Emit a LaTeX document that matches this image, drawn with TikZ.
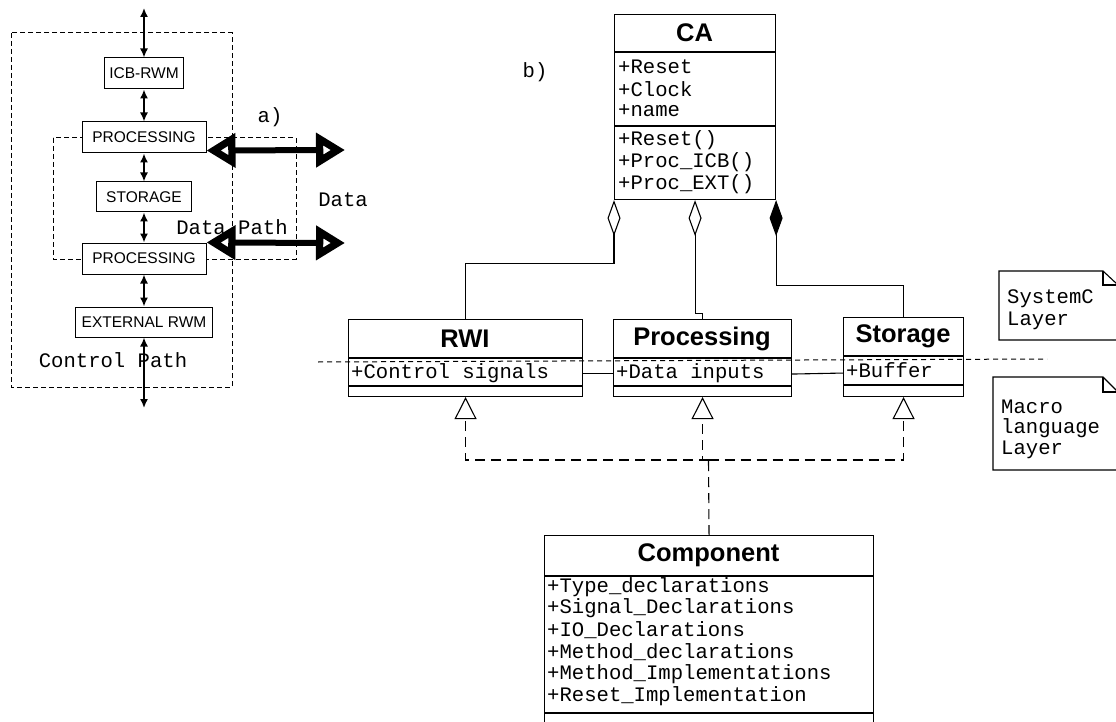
\documentclass[tikz,border=0pt]{standalone}
\usepackage{fontspec}
\setmainfont{Liberation Serif}
\setsansfont{Liberation Sans}
\setmonofont{Liberation Mono}
\usetikzlibrary{positioning,arrows.meta}

\tikzset{
  blk/.style={draw, fill=white, line width=1pt, inner sep=0pt, font=\sffamily\fontsize{15.5}{15.5}\selectfont},
  cls/.style={draw, fill=white, line width=1.1pt, anchor=north west, inner sep=0pt},
  clsname/.style={inner sep=0pt, font=\sffamily\bfseries\fontsize{25.5}{25.5}\selectfont},
  attr/.style={anchor=west, inner sep=0pt, font=\ttfamily\fontsize{20.6}{22}\selectfont},
  lbl/.style={inner sep=0pt, font=\ttfamily\fontsize{20.6}{22}\selectfont},
  ctl/.style={line width=1.6pt, {Latex[length=9pt,width=8pt]}-{Latex[length=9pt,width=8pt]}},
  dataarrow/.style={line width=6pt, {Triangle[open,length=29pt,width=33pt,line width=9pt]}-{Triangle[open,length=29pt,width=33pt,line width=9pt]}},
  pathbox/.style={line width=1pt, dash pattern=on 5pt off 3pt},
  aggr/.style={line width=1.1pt, {Diamond[open,length=36pt,width=13pt]}-},
  compos/.style={line width=1.1pt, {Diamond[length=36pt,width=13pt]}-},
  realize/.style={line width=1.1pt, dash pattern=on 10pt off 6pt},
  layer/.style={line width=1pt, dash pattern=on 5pt off 4pt},
  notebox/.style={line width=1.1pt}
}

\begin{document}
\begin{tikzpicture}[x=1pt, y=-1pt]
  \useasboundingbox (0,0) rectangle (1116,722);

  % a) control and data path
  \draw[pathbox] (11,33) rectangle (232,387);   % control path
  \draw[pathbox] (53,138) rectangle (296,259);  % data path

  \node[blk, minimum width=79pt, minimum height=31pt] (icb) at (144,73.5) {ICB-RWM};
  \node[blk, minimum width=124pt, minimum height=31pt] (proc1) at (144,137.5) {PROCESSING};
  \node[blk, minimum width=95pt, minimum height=30pt] (store) at (144,197) {STORAGE};
  \node[blk, minimum width=124pt, minimum height=31pt] (proc2) at (144,258.5) {PROCESSING};
  \node[blk, minimum width=137pt, minimum height=30pt] (ext) at (144,322) {EXTERNAL RWM};

  \coordinate (topend) at (144,8);
  \coordinate (botend) at (144,408);
  \coordinate (dataA) at (345,150);
  \coordinate (dataB) at (345,243);

  \draw[ctl] (topend) -- (icb.north);
  \draw[ctl] (icb) -- (proc1);
  \draw[ctl] (proc1) -- (store);
  \draw[ctl] (store) -- (proc2);
  \draw[ctl] (proc2) -- (ext);
  \draw[ctl] (ext.south) -- (botend);

  \draw[dataarrow] ([yshift=3pt]proc1.south east) -- (dataA);
  \draw[dataarrow] (proc2.north east) -- (dataB);

  \node[lbl] (alabel) at (270,117) {a)};
  \node[lbl] (datalabel) at (343,200) {Data};
  \node[lbl] (dplabel) at (232,227) {Data Path};
  \node[lbl] (cplabel) at (113,360) {Control Path};

  % b) class diagram
  \node[lbl] (blabel) at (535,72) {b)};

  \node[cls, minimum width=161pt, minimum height=185pt] (ca) at (614,14) {};
  \node[clsname] (caname) at (694.5,33) {CA};
  \draw[line width=1.1pt] (ca.west |- 0,52) -- (ca.east |- 0,52);
  \draw[line width=1.1pt] (ca.west |- 0,126) -- (ca.east |- 0,126);
  \node[attr] (ca1) at (618,67) {+Reset};
  \node[attr] (ca2) at (618,89) {+Clock};
  \node[attr] (ca3) at (618,111) {+name};
  \node[attr] (ca4) at (618,140) {+Reset()};
  \node[attr] (ca5) at (618,162) {+Proc\_ICB()};
  \node[attr] (ca6) at (618,184) {+Proc\_EXT()};

  \node[cls, minimum width=234pt, minimum height=77pt] (rwi) at (348,319) {};
  \node[clsname] (rwiname) at (465,338.5) {RWI};
  \draw[line width=1.1pt] (rwi.west |- 0,358) -- (rwi.east |- 0,358);
  \draw[line width=1.1pt] (rwi.west |- 0,386) -- (rwi.east |- 0,386);
  \node[attr] (rwi1) at (351,373) {+Control signals};

  \node[cls, minimum width=178pt, minimum height=77pt] (proc) at (613,319) {};
  \node[clsname] (procname) at (702,338.5) {Processing};
  \draw[line width=1.1pt] (proc.west |- 0,358) -- (proc.east |- 0,358);
  \draw[line width=1.1pt] (proc.west |- 0,386) -- (proc.east |- 0,386);
  \node[attr] (proc1a) at (616,373) {+Data inputs};

  \node[cls, minimum width=120pt, minimum height=79pt] (stor) at (843,317) {};
  \node[clsname] (storname) at (903,336.5) {Storage};
  \draw[line width=1.1pt] (stor.west |- 0,356) -- (stor.east |- 0,356);
  \draw[line width=1.1pt] (stor.west |- 0,385) -- (stor.east |- 0,385);
  \node[attr] (stor1) at (846,370) {+Buffer};

  \node[cls, minimum width=329pt, minimum height=200pt] (comp) at (544,535) {};
  \node[clsname] (compname) at (708.5,555.5) {Component};
  \draw[line width=1.1pt] (comp.west |- 0,576) -- (comp.east |- 0,576);
  \draw[line width=1.1pt] (comp.west |- 0,713) -- (comp.east |- 0,713);
  \node[attr] (comp1) at (547,587) {+Type\_declarations};
  \node[attr] (comp2) at (547,608) {+Signal\_Declarations};
  \node[attr] (comp3) at (547,630) {+IO\_Declarations};
  \node[attr] (comp4) at (547,652) {+Method\_declarations};
  \node[attr] (comp5) at (547,674) {+Method\_Implementations};
  \node[attr] (comp6) at (547,696) {+Reset\_Implementation};

  % associations
  \draw[line width=1.1pt] ([yshift=-15pt]rwi.east) -- ([yshift=-15pt]proc.west);
  \draw[line width=1.1pt] ([yshift=-16pt]proc.east) -- ([yshift=-16pt]stor.west);

  % aggregation
  \draw[aggr] (ca.south west) -- ++(0,63) -| (rwi.north);
  \draw[aggr] (ca.south) -- ++(0,113) -| (proc.north);
  \draw[compos] (ca.south east) -- ++(0,85) -| (stor.north);

  % realization
  \coordinate (junc) at (708.5,460);
  \draw[realize] (comp.north) -- (junc);
  \draw[realize, -{Triangle[open,length=22pt,width=22pt]}] (junc) -| (rwi.south);
  \draw[realize, -{Triangle[open,length=22pt,width=22pt]}] (junc) -| (proc.south);
  \draw[realize, -{Triangle[open,length=22pt,width=22pt]}] (junc) -| (stor.south);

  % layers
  \coordinate (layerL) at (318,362);
  \coordinate (layerR) at (1047,359);
  \draw[layer] (layerL) -- (layerR);

  \draw[notebox] (999,271) -- (1103,271) -- (1118,285) -- (1118,340) -- (999,340) -- cycle;
  \draw[notebox] (1103,271) -- (1103,285) -- (1118,285);
  \node[attr] (sysc1) at (1007,299) {SystemC};
  \node[attr] (sysc2) at (1007,321) {Layer};

  \draw[notebox] (993,377) -- (1103,377) -- (1118,392) -- (1118,470) -- (993,470) -- cycle;
  \draw[notebox] (1103,377) -- (1103,392) -- (1118,392);
  \node[attr] (macro1) at (1001,407) {Macro};
  \node[attr] (macro2) at (1001,428) {language};
  \node[attr] (macro3) at (1001,450) {Layer};
\end{tikzpicture}
\end{document}
